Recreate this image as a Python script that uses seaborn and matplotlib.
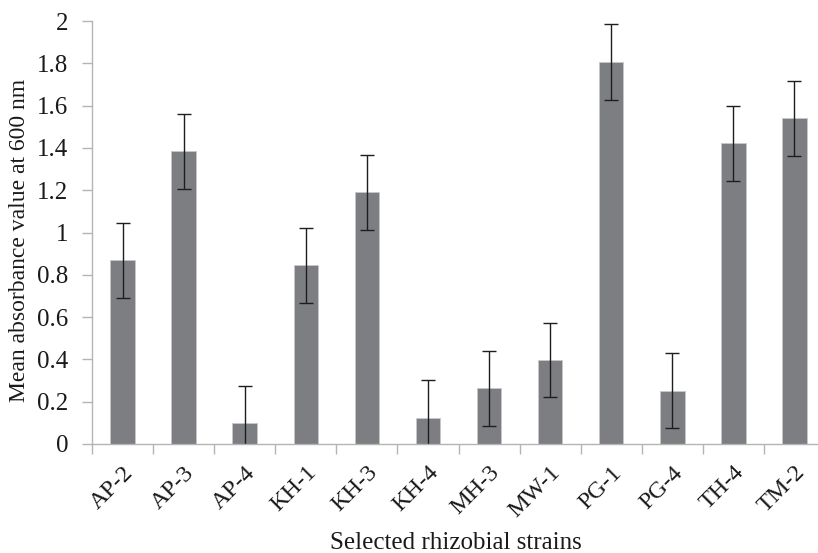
import numpy as np
import pandas as pd
import matplotlib
matplotlib.use("Agg")
import matplotlib.pyplot as plt
import seaborn as sns

strains = ["AP-2", "AP-3", "AP-4", "KH-1", "KH-3", "KH-4", "MH-3", "MW-1",
           "PG-1", "PG-4", "TH-4", "TM-2"]
means = [0.868, 1.384, 0.098, 0.846, 1.190, 0.124, 0.263, 0.397,
         1.806, 0.251, 1.422, 1.540]
errors = [0.177, 0.178, 0.178, 0.177, 0.177, 0.177, 0.177, 0.177,
          0.178, 0.177, 0.177, 0.177]
yticks = [0, 0.2, 0.4, 0.6, 0.8, 1, 1.2, 1.4, 1.6, 1.8, 2]

sns.set_style("white")
plt.rcParams["font.family"] = ["Liberation Serif", "DejaVu Serif"]

df = pd.DataFrame({"strain": strains, "mean": means})

fig = plt.figure(figsize=(8.18, 5.53), dpi=100)
ax = fig.add_axes([92 / 818, 1 - 444 / 553, 733 / 818, (444 - 21) / 553])

sns.barplot(data=df, x="strain", y="mean", color="#7d7e82", saturation=1,
            width=0.4, errorbar=None, edgecolor="#c8c8ca", linewidth=0.6, ax=ax)
ax.errorbar(np.arange(len(strains)), means, yerr=errors, fmt="none",
            ecolor="#1e1e1e", elinewidth=1.0, capsize=5, capthick=1.0,
            clip_on=True)

ax.set_xlim(-0.5, len(strains) - 0.5)
ax.set_ylim(0, 2)
ax.set_yticks(yticks)
ax.set_yticklabels([f"{v:g}" for v in yticks])

ax.set_xticks(np.arange(len(strains) + 1) - 0.5)
ax.set_xticklabels([])
ax.set_xticks(np.arange(len(strains)), minor=True)
ax.set_xticklabels(strains, minor=True, rotation=45, ha="right",
                   rotation_mode="anchor")

for s in ["top", "right"]:
    ax.spines[s].set_visible(False)
for s in ["left", "bottom"]:
    ax.spines[s].set_color("#b4b4b4")
    ax.spines[s].set_linewidth(1.0)

fs = 17.5
ax.tick_params(axis="y", which="major", direction="out", length=7, width=1,
               color="#b4b4b4", left=True, labelsize=fs + 0.5, pad=10,
               labelcolor="#1a1a1a")
ax.tick_params(axis="x", which="major", direction="out", length=7, width=1,
               color="#b4b4b4", bottom=True)
ax.tick_params(axis="x", which="minor", length=0, labelsize=fs, pad=13,
               labelcolor="#1a1a1a")

ax.set_xlabel("Selected rhizobial strains", fontsize=fs + 0.5, color="#1a1a1a",
              va="baseline")
ax.set_ylabel("Mean absorbance value at 600 nm", fontsize=17,
              color="#1a1a1a", va="center")
ax.yaxis.set_label_coords(-(92 - 20) / 733, (444 - 240) / 423)
ax.xaxis.set_label_coords((456 - 92) / 733, -(549 - 444) / 423)

fig.savefig("out.png", dpi=100)
